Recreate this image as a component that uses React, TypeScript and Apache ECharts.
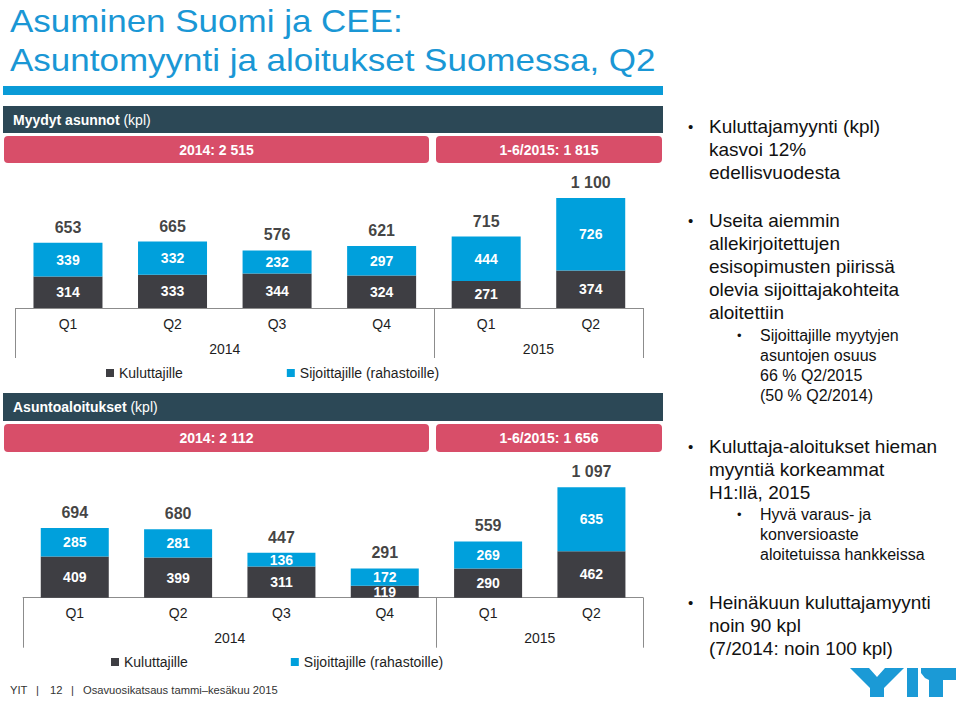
import React, { useEffect, useRef } from "react";
import * as echarts from "echarts";

// ---------- data ----------
const quarterLabels = ["Q1", "Q2", "Q3", "Q4", "Q1", "Q2"];
const quarterYears = ["2014", "2014", "2014", "2014", "2015", "2015"];
const seriesNames = ["Kuluttajille", "Sijoittajille (rahastoille)"];

const salesConsumers = [314, 333, 344, 324, 271, 374];
const salesInvestors = [339, 332, 232, 297, 444, 726];
const startsConsumers = [409, 399, 311, 119, 290, 462];
const startsInvestors = [285, 281, 136, 172, 269, 635];

const salesYearTotals = ["2014: 2 515", "1-6/2015: 1 815"];
const startsYearTotals = ["2014: 2 112", "1-6/2015: 1 656"];

const titleLines = ["Asuminen Suomi ja CEE:", "Asuntomyynti ja aloitukset Suomessa, Q2"];
const salesHeader = ["Myydyt asunnot", " (kpl)"];
const startsHeader = ["Asuntoaloitukset", " (kpl)"];
const footerParts = ["YIT", "|", "12", "|", "Osavuosikatsaus tammi\u2013kesäkuu 2015"];

const bulletsTop = [
  { level: 0, lines: ["Kuluttajamyynti (kpl)", "kasvoi 12%", "edellisvuodesta"] },
  { level: 0, lines: ["Useita aiemmin", "allekirjoitettujen", "esisopimusten piirissä", "olevia sijoittajakohteita", "aloitettiin"] },
  { level: 1, lines: ["Sijoittajille myytyjen", "asuntojen osuus", "66 % Q2/2015", "(50 % Q2/2014)"] },
];
const bulletsBottom = [
  { level: 0, lines: ["Kuluttaja-aloitukset hieman", "myyntiä korkeammat", "H1:llä, 2015"] },
  { level: 1, lines: ["Hyvä varaus- ja", "konversioaste", "aloitetuissa hankkeissa"] },
  { level: 0, lines: ["Heinäkuun kuluttajamyynti", "noin 90 kpl", "(7/2014: noin 100 kpl)"] },
];

// ---------- styles ----------
const FONT = "'Liberation Sans', Arial, Helvetica, sans-serif";
const DARK = "#3e3e43";
const BLUE = "#00a0dc";
const PINK = "#d84e69";
const HEADER = "#2c4856";
const TITLE = "#1a97d5";
const AXIS = "#8c8c8c";
const LOGO = "#1b9ad6";

const fmt = (n: number) =>
  n >= 1000 ? `${Math.floor(n / 1000)} ${String(n % 1000).padStart(3, "0")}` : String(n);

const categories = quarterLabels.map((q, i) => `${quarterYears[i]}|${q}`);

// year groups: boundaries and centers on a 0..N scale
const yearGroups: { year: string; start: number; count: number }[] = [];
quarterYears.forEach((y, i) => {
  const last = yearGroups[yearGroups.length - 1];
  if (last && last.year === y) last.count += 1;
  else yearGroups.push({ year: y, start: i, count: 1 });
});
const boundaries = [0, ...yearGroups.map((g) => g.start + g.count)];
const centers = yearGroups.map((g) => g.start + g.count / 2);

function chartParts(
  idx: number,
  grid: { left: number; top: number; width: number; height: number },
  consumers: number[],
  investors: number[],
  barWidth: number,
  qMargin: number,
  yMargin: number,
  legendPos: { left: number; top: number; gap: number }
) {
  const totals = consumers.map((c, i) => c + investors[i]);
  const segLabel = {
    show: true,
    position: "inside",
    color: "#fff",
    fontWeight: "bold",
    fontSize: 14,
    lineHeight: 13,
    fontFamily: FONT,
  };
  return {
    grid: { ...grid },
    xAxes: [
      {
        type: "category",
        gridIndex: idx,
        data: categories,
        axisLine: { lineStyle: { color: AXIS, width: 1 } },
        axisTick: { show: false },
        axisLabel: {
          margin: qMargin,
          fontSize: 14,
          color: "#1e1e1e",
          fontFamily: FONT,
          formatter: (v: string) => v.split("|")[1],
        },
      },
      {
        type: "value",
        gridIndex: idx,
        min: 0,
        max: quarterLabels.length,
        position: "bottom",
        axisLine: { show: false },
        splitLine: { show: false },
        axisTick: {
          show: true,
          customValues: boundaries,
          length: 50,
          lineStyle: { color: AXIS, width: 1 },
        },
        axisLabel: {
          customValues: centers,
          margin: yMargin,
          fontSize: 14,
          color: "#1e1e1e",
          fontFamily: FONT,
          formatter: (v: number) => {
            const g = yearGroups.find((gg) => Math.abs(gg.start + gg.count / 2 - v) < 1e-6);
            return g ? g.year : "";
          },
        },
      },
    ],
    yAxis: { type: "value", gridIndex: idx, min: 0, max: 1200, show: false },
    legend: {
      data: seriesNames,
      left: legendPos.left,
      top: legendPos.top,
      padding: 0,
      itemGap: legendPos.gap,
      itemWidth: 8,
      itemHeight: 8,
      icon: "rect",
      textStyle: { fontSize: 14, color: "#1e1e1e", fontFamily: FONT },
    },
    series: [
      {
        name: seriesNames[0],
        type: "bar",
        stack: "s" + idx,
        xAxisIndex: idx * 2,
        yAxisIndex: idx,
        barWidth,
        data: consumers,
        itemStyle: { color: DARK },
        label: segLabel,
      },
      {
        name: seriesNames[1],
        type: "bar",
        stack: "s" + idx,
        xAxisIndex: idx * 2,
        yAxisIndex: idx,
        barWidth,
        data: investors,
        itemStyle: { color: BLUE },
        label: segLabel,
      },
      {
        name: "total" + idx,
        type: "scatter",
        xAxisIndex: idx * 2,
        yAxisIndex: idx,
        symbolSize: 1,
        itemStyle: { color: "transparent" },
        data: totals,
        label: {
          show: true,
          position: "top",
          distance: 7,
          color: "#111",
          fontWeight: "bold",
          fontSize: 16,
          fontFamily: FONT,
          formatter: (p: any) => fmt(p.value),
        },
      },
    ],
  };
}

function headerBar(y: number, h: number, parts: string[]) {
  return [
    { type: "rect", shape: { x: 3, y, width: 660, height: h }, style: { fill: HEADER } },
    {
      type: "text",
      x: 13,
      y: y + h / 2,
      style: {
        text: `{b|${parts[0]}}${parts[1]}`,
        fill: "#fff",
        fontSize: 14,
        fontFamily: FONT,
        verticalAlign: "middle",
        rich: { b: { fontWeight: "bold", fontSize: 14, fill: "#fff", fontFamily: FONT } },
      },
    },
  ];
}

function pinkBars(y: number, h: number, labels: string[]) {
  const boxes = [
    { x: 4, w: 425 },
    { x: 436, w: 226 },
  ];
  const out: any[] = [];
  boxes.forEach((b, i) => {
    out.push({
      type: "rect",
      shape: { x: b.x, y, width: b.w, height: h, r: 4 },
      style: { fill: PINK },
    });
    out.push({
      type: "text",
      x: b.x + b.w / 2,
      y: y + h / 2,
      style: {
        text: labels[i],
        fill: "#fff",
        fontSize: 14,
        fontWeight: "bold",
        fontFamily: FONT,
        align: "center",
        verticalAlign: "middle",
      },
    });
  });
  return out;
}

function bulletBlock(startY: number, blocks: typeof bulletsTop, gaps: number[]) {
  const out: any[] = [];
  let y = startY;
  blocks.forEach((b, bi) => {
    const main = b.level === 0;
    const size = main ? 19 : 16;
    const lh = main ? 23 : 20;
    const bx = main ? 688 : 737;
    const tx = main ? 709 : 760;
    out.push({
      type: "text",
      x: bx,
      y,
      style: { text: "\u2022", fill: "#111", fontSize: main ? 15 : 13, fontFamily: FONT, verticalAlign: "middle" },
    });
    b.lines.forEach((l, li) => {
      out.push({
        type: "text",
        x: tx,
        y: y + li * lh,
        style: { text: l, fill: "#111", fontSize: size, fontFamily: FONT, verticalAlign: "middle" },
      });
    });
    y += (b.lines.length - 1) * lh + (gaps[bi] || 0);
  });
  return out;
}

export default function App() {
  const ref = useRef<HTMLDivElement>(null);
  useEffect(() => {
    if (!ref.current) return;
    const chart = echarts.init(ref.current, null, { renderer: "svg" });

    const top = chartParts(
      0,
      { left: 15.7, top: 188, width: 627.3, height: 120 },
      salesConsumers,
      salesInvestors,
      69,
      9,
      34,
      { left: 106, top: 366, gap: 104 }
    );
    const bottom = chartParts(
      1,
      { left: 23.1, top: 477, width: 620, height: 120.7 },
      startsConsumers,
      startsInvestors,
      68,
      8,
      33,
      { left: 111, top: 655, gap: 103 }
    );

    const graphics: any[] = [
      {
        type: "text",
        x: 10,
        y: 21,
        scaleY: 0.92,
        style: { text: titleLines[0], fill: TITLE, fontSize: 35, fontFamily: FONT, verticalAlign: "middle" },
      },
      {
        type: "text",
        x: 10,
        y: 60,
        scaleY: 0.92,
        style: { text: titleLines[1], fill: TITLE, fontSize: 35, fontFamily: FONT, verticalAlign: "middle" },
      },
      { type: "rect", shape: { x: 3, y: 86, width: 660, height: 9 }, style: { fill: "#0a9bd7" } },
      ...headerBar(106, 27, salesHeader),
      ...pinkBars(136, 27, salesYearTotals),
      ...headerBar(393, 28, startsHeader),
      ...pinkBars(424, 28, startsYearTotals),
      ...bulletBlock(126, bulletsTop, [48, 23, 0]),
      ...bulletBlock(446, bulletsBottom, [22, 48, 0]),
      // footer
      ...footerParts.map((t, i) => ({
        type: "text",
        x: [10, 36, 50, 71, 83][i],
        y: 690,
        style: { text: t, fill: "#333", fontSize: 11.2, fontFamily: FONT, verticalAlign: "middle" },
      })),
      // YIT logo
      {
        type: "polygon",
        shape: {
          points: [
            [850, 668], [869, 668], [877, 677], [885, 668], [904, 668],
            [884, 688], [884, 697], [870, 697], [870, 688],
          ],
        },
        style: { fill: LOGO },
      },
      { type: "rect", shape: { x: 907, y: 668, width: 11, height: 29 }, style: { fill: LOGO } },
      {
        type: "polygon",
        shape: {
          points: [
            [921, 668], [956, 668], [956, 680], [943, 680], [943, 697],
            [929, 697], [929, 680], [925, 678], [921, 673],
          ],
        },
        style: { fill: LOGO },
      },
    ];

    chart.setOption({
      animation: false,
      backgroundColor: "#ffffff",
      textStyle: { fontFamily: FONT },
      grid: [top.grid, bottom.grid],
      xAxis: [...top.xAxes, ...bottom.xAxes],
      yAxis: [top.yAxis, bottom.yAxis],
      legend: [top.legend, bottom.legend],
      series: [...top.series, ...bottom.series],
      graphic: graphics,
    });
    return () => chart.dispose();
  }, []);

  return (
    <div
      ref={ref}
      style={{ position: "absolute", left: 0, top: 0, width: 960, height: 701, background: "#fff" }}
    />
  );
}
